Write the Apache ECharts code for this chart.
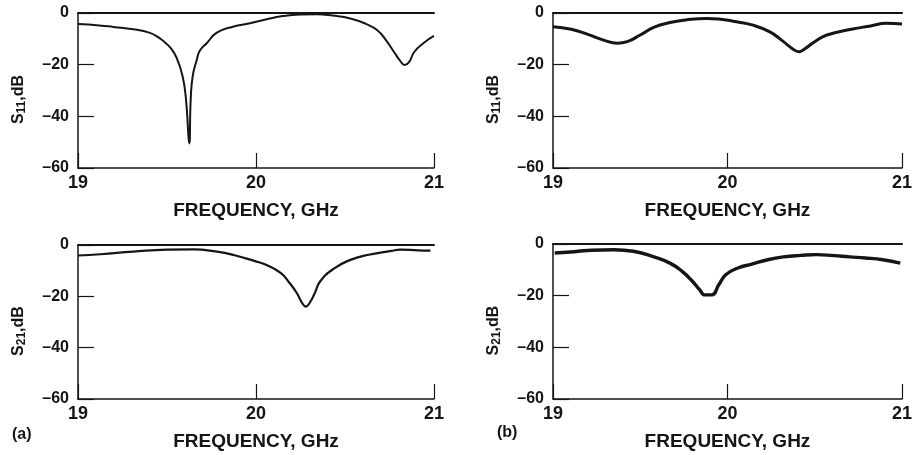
<!DOCTYPE html>
<html>
<head>
<meta charset="utf-8">
<script src="https://cdn.jsdelivr.net/npm/echarts@6/dist/echarts.min.js"></script>
<style>
  html, body { margin: 0; padding: 0; background: #fff; }
  #chart { width: 915px; height: 455px; }
</style>
</head>
<body>
<div id="chart"></div>
<script>
// (a) S11
const freqS11a = [19.00, 19.12, 19.20, 19.31, 19.40, 19.46, 19.49, 19.52, 19.555, 19.588, 19.607, 19.625,
    19.633, 19.644, 19.667, 19.685, 19.723, 19.78, 19.87, 19.966, 20.06, 20.15, 20.25, 20.34, 20.43,
    20.53, 20.62, 20.68, 20.73, 20.78, 20.81, 20.835, 20.86, 20.89, 20.94, 21.00];
const dbS11a = [-4.3, -4.8, -5.4, -6.3, -7.6, -9.8, -11.5, -13.5, -17.5, -24.6, -33.7, -50.5,
    -33.7, -24.6, -18.2, -14.5, -11.7, -7.6, -5.3, -4.0, -2.4, -1.2, -0.6, -0.5, -1.0,
    -2.1, -4.3, -6.6, -10.5, -15.6, -18.5, -20.1, -19.0, -15.0, -11.7, -8.9];

// (b) S11
const freqS11b = [19.00, 19.105, 19.20, 19.29, 19.37, 19.425, 19.50, 19.58, 19.67, 19.76, 19.88, 19.95,
    20.05, 20.14, 20.24, 20.31, 20.37, 20.41, 20.44, 20.50, 20.57, 20.71, 20.82, 20.91, 21.00];
const dbS11b = [-5.3, -6.3, -8.3, -10.5, -11.7, -11.1, -8.5, -5.5, -3.7, -2.7, -2.1, -2.3,
    -3.4, -4.6, -7.2, -10.5, -13.7, -15.0, -14.0, -11.1, -8.5, -6.3, -5.0, -4.0, -4.3];

// (a) S21
const freqS21a = [19.00, 19.126, 19.31, 19.50, 19.65, 19.78, 19.875, 19.99, 20.06, 20.14, 20.19, 20.23,
    20.26, 20.28, 20.30, 20.33, 20.36, 20.44, 20.53, 20.625, 20.76, 20.81, 20.91, 20.98];
const dbS21a = [-4.1, -3.6, -2.6, -1.8, -1.7, -2.6, -3.9, -6.2, -7.8, -11.0, -14.9, -18.8,
    -22.7, -24.0, -22.7, -18.8, -14.2, -9.1, -5.8, -3.9, -2.3, -1.8, -2.1, -2.2];

// (b) S21
const freqS21b = [19.01, 19.10, 19.20, 19.35, 19.46, 19.57, 19.67, 19.74, 19.80, 19.84, 19.87, 19.91,
    19.95, 19.99, 20.06, 20.14, 20.23, 20.32, 20.42, 20.51, 20.61, 20.70, 20.79, 20.89, 20.99];
const dbS21b = [-3.5, -3.1, -2.5, -2.2, -2.8, -4.8, -7.4, -10.6, -14.5, -17.7, -19.7, -19.7,
    -15.8, -11.9, -9.3, -7.8, -6.1, -5.0, -4.4, -4.1, -4.5, -5.0, -5.4, -6.1, -7.4];

const freqTicks = [19, 21, 1];   // min, max, interval
const dbTicks = [-60, 0, 20];

const ink = '#151515';
const fontFamily = '"Liberation Sans", Arial, sans-serif';

const panels = [
    { name: 'S{sub|11},dB', f: freqS11a, v: dbS11a, width: 2,   grid: { left: 78,  top: 13,  width: 356, height: 155 } },
    { name: 'S{sub|11},dB', f: freqS11b, v: dbS11b, width: 3,   grid: { left: 553, top: 13,  width: 354, height: 155 } },
    { name: 'S{sub|21},dB', f: freqS21a, v: dbS21a, width: 2.2, grid: { left: 78,  top: 245, width: 356, height: 154 } },
    { name: 'S{sub|21},dB', f: freqS21b, v: dbS21b, width: 3.4, grid: { left: 553, top: 244, width: 355, height: 155 } }
];

function zip(xs, ys) {
    return xs.map((x, i) => [x, ys[i]]);
}

const grids = [];
const xAxes = [];
const yAxes = [];
const series = [];

panels.forEach((p, i) => {
    grids.push(p.grid);
    // bottom frequency axis
    xAxes.push({
        gridIndex: i,
        type: 'value',
        position: 'bottom',
        min: freqTicks[0], max: freqTicks[1], interval: freqTicks[2],
        name: 'FREQUENCY, GHz',
        nameLocation: 'middle',
        nameGap: 33,
        nameTextStyle: { color: ink, fontFamily, fontWeight: 'bold', fontSize: 19 },
        axisLine: { onZero: false, lineStyle: { color: ink, width: 1.5 } },
        axisTick: { inside: true, length: 15, lineStyle: { color: ink, width: 1.2 } },
        axisLabel: { color: ink, fontFamily, fontWeight: 'bold', fontSize: 18, margin: 6 },
        splitLine: { show: false }
    });
    // 0 dB line at the top
    xAxes.push({
        gridIndex: i,
        type: 'value',
        position: 'top',
        min: freqTicks[0], max: freqTicks[1],
        axisLine: { onZero: false, lineStyle: { color: ink, width: 2 } },
        axisTick: { show: false },
        axisLabel: { show: false },
        splitLine: { show: false }
    });
    yAxes.push({
        gridIndex: i,
        type: 'value',
        min: dbTicks[0], max: dbTicks[1], interval: dbTicks[2],
        name: p.name,
        nameLocation: 'middle',
        nameRotate: 90,
        nameGap: 50,
        nameTextStyle: {
            color: ink, fontFamily, fontWeight: 'bold', fontSize: 16,
            padding: [0, 0, 0, -18],
            rich: {
                sub: { fontFamily, fontWeight: 'bold', fontSize: 12, verticalAlign: 'bottom', padding: [6, 0, 0, 0] }
            }
        },
        axisLine: { show: true, onZero: false, lineStyle: { color: ink, width: 1.5 } },
        axisTick: { inside: true, length: 16, lineStyle: { color: ink, width: 1.2 } },
        axisLabel: {
            color: ink, fontFamily, fontWeight: 'bold', fontSize: 16, margin: 9,
            formatter: v => String(v).replace('-', '\u2013')
        },
        splitLine: { show: false }
    });
    series.push({
        type: 'line',
        xAxisIndex: i * 2,
        yAxisIndex: i,
        data: zip(p.f, p.v),
        showSymbol: false,
        smooth: 0.5,
        lineStyle: { color: ink, width: p.width },
        animation: false
    });
});

const chart = echarts.init(document.getElementById('chart'));
chart.setOption({
    animation: false,
    backgroundColor: '#fff',
    grid: grids,
    xAxis: xAxes,
    yAxis: yAxes,
    series: series,
    graphic: [
        { type: 'text', left: 12, top: 427, style: { text: '(a)', fill: ink, font: 'bold 16px "Liberation Sans", Arial, sans-serif' } },
        { type: 'text', left: 497, top: 425, style: { text: '(b)', fill: ink, font: 'bold 16px "Liberation Sans", Arial, sans-serif' } }
    ]
});
</script>
</body>
</html>
